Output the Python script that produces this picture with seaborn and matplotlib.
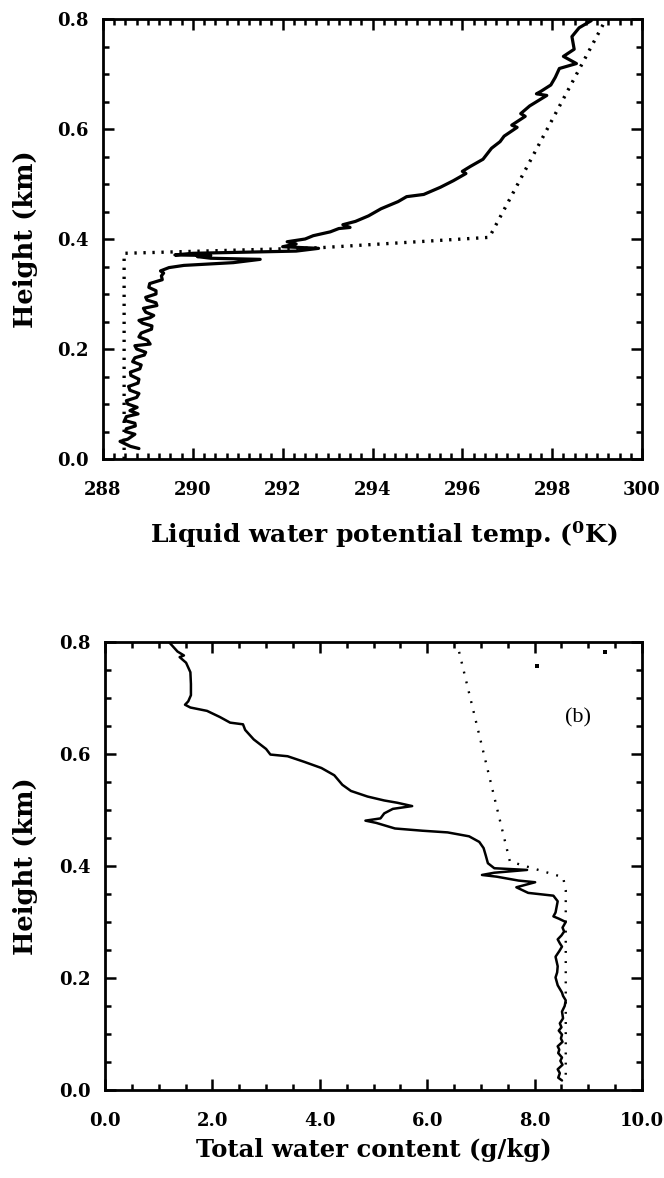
import matplotlib
matplotlib.use("Agg")
import matplotlib.pyplot as plt
from matplotlib.ticker import MultipleLocator, FixedLocator
import seaborn as sns
import pandas as pd

# ---------------- data ----------------
# (a) liquid water potential temperature, measured profile
theta_meas = [288.80, 288.61, 288.38, 288.55, 288.71, 288.50, 288.52, 288.72, 288.71, 288.48,
              288.52, 288.78, 288.60, 288.76, 288.55, 288.52, 288.75, 288.80, 288.60, 288.57,
              288.78, 288.80, 288.62, 288.61, 288.82, 288.85, 288.66, 288.71, 288.92, 288.95,
              288.75, 288.71, 289.05, 288.99, 288.80, 288.85, 289.08, 289.09, 288.88, 288.80,
              289.05, 289.13, 288.95, 288.90, 289.20, 289.18, 288.98, 288.95, 289.18, 289.18,
              289.02, 289.04, 289.32, 289.30, 289.35, 289.28, 289.47, 289.80, 290.90, 291.50,
              290.40, 290.10, 290.40, 289.60, 290.00, 292.30, 292.80, 292.00, 292.30, 292.10,
              292.50, 292.68, 293.06, 293.25, 293.50, 293.34, 293.62, 293.91, 294.19, 294.57,
              294.76, 295.14, 295.51, 295.80, 296.08, 296.00, 296.18, 296.46, 296.65, 296.84,
              296.93, 297.22, 297.10, 297.40, 297.30, 297.50, 297.88, 297.65, 297.74, 297.97,
              298.07, 298.16, 298.54, 298.25, 298.49, 298.44, 298.60, 298.87]
z_theta_meas = [0.019, 0.023, 0.032, 0.036, 0.045, 0.050, 0.055, 0.060, 0.065, 0.070,
                0.077, 0.082, 0.088, 0.094, 0.100, 0.106, 0.112, 0.119, 0.125, 0.132,
                0.138, 0.145, 0.152, 0.158, 0.164, 0.171, 0.177, 0.184, 0.189, 0.194,
                0.200, 0.206, 0.209, 0.216, 0.222, 0.229, 0.236, 0.242, 0.247, 0.252,
                0.257, 0.261, 0.267, 0.274, 0.279, 0.284, 0.289, 0.294, 0.300, 0.306,
                0.312, 0.319, 0.326, 0.333, 0.338, 0.342, 0.348, 0.352, 0.357, 0.363,
                0.365, 0.368, 0.370, 0.371, 0.374, 0.378, 0.383, 0.386, 0.391, 0.395,
                0.400, 0.406, 0.413, 0.419, 0.421, 0.426, 0.432, 0.442, 0.455, 0.468,
                0.477, 0.481, 0.494, 0.506, 0.519, 0.523, 0.532, 0.545, 0.565, 0.577,
                0.587, 0.603, 0.607, 0.623, 0.628, 0.642, 0.661, 0.664, 0.668, 0.680,
                0.694, 0.710, 0.719, 0.732, 0.745, 0.768, 0.784, 0.797]

# (a) model / idealised profile (dotted)
theta_model = [288.47, 288.47, 292.80, 296.60, 299.20]
z_theta_model = [0.000, 0.374, 0.384, 0.403, 0.800]

# (b) total water content, measured profile
qt_meas = [8.51, 8.44, 8.47, 8.43, 8.52, 8.48, 8.51, 8.44, 8.46, 8.43,
           8.52, 8.49, 8.51, 8.45, 8.50, 8.47, 8.53, 8.51, 8.56, 8.58,
           8.53, 8.51, 8.43, 8.39, 8.42, 8.43, 8.39, 8.46, 8.51, 8.47,
           8.43, 8.50, 8.55, 8.52, 8.58, 8.45, 8.35, 8.39, 8.43, 8.35,
           7.88, 7.66, 8.01, 7.70, 7.29, 7.02, 7.25, 7.86, 7.25, 7.13,
           7.09, 7.05, 6.97, 6.78, 6.38, 5.91, 5.40, 5.05, 4.85, 5.13,
           5.20, 5.36, 5.72, 5.44, 5.20, 4.89, 4.58, 4.42, 4.27, 4.03,
           3.71, 3.40, 3.08, 3.00, 2.77, 2.61, 2.57, 2.33, 2.14, 1.90,
           1.59, 1.49, 1.55, 1.60, 1.60, 1.59, 1.51, 1.39, 1.47, 1.35, 1.19]
z_qt_meas = [0.017, 0.022, 0.030, 0.037, 0.045, 0.052, 0.058, 0.066, 0.072, 0.078,
             0.086, 0.092, 0.099, 0.106, 0.112, 0.119, 0.128, 0.140, 0.150, 0.160,
             0.168, 0.174, 0.187, 0.201, 0.210, 0.221, 0.238, 0.248, 0.256, 0.262,
             0.269, 0.276, 0.283, 0.290, 0.300, 0.306, 0.310, 0.317, 0.337, 0.347,
             0.352, 0.362, 0.371, 0.374, 0.381, 0.384, 0.388, 0.393, 0.396, 0.405,
             0.419, 0.432, 0.443, 0.453, 0.460, 0.463, 0.467, 0.477, 0.481, 0.485,
             0.494, 0.502, 0.507, 0.513, 0.517, 0.524, 0.534, 0.545, 0.562, 0.575,
             0.586, 0.596, 0.599, 0.609, 0.626, 0.643, 0.653, 0.656, 0.666, 0.677,
             0.683, 0.688, 0.694, 0.705, 0.725, 0.746, 0.763, 0.773, 0.776, 0.783, 0.800]

# (b) model profile (dotted)
qt_model = [6.55, 7.54, 8.53, 8.58, 8.58]
z_qt_model = [0.800, 0.408, 0.380, 0.357, 0.020]

# stray specks in panel (b)
speck_x = [8.04, 9.31]
speck_y = [0.757, 0.782]

x_ticks_a = [288, 290, 292, 294, 296, 298, 300]
x_ticks_b = [0.0, 2.0, 4.0, 6.0, 8.0, 10.0]
y_ticks = [0.0, 0.2, 0.4, 0.6, 0.8]

# ---------------- style ----------------
sns.set_style("ticks")
plt.rcParams['font.family'] = ['DejaVu Serif']
plt.rcParams['mathtext.default'] = 'regular'
plt.rcParams['axes.labelcolor'] = 'black'
plt.rcParams['text.color'] = 'black'

W, H = 664, 1178
fig = plt.figure(figsize=(W / 100, H / 100), dpi=100)

def box(l, t, r, b):
    return [l / W, 1 - b / H, (r - l) / W, (b - t) / H]

ax1 = fig.add_axes(box(103, 19, 642, 459))
ax2 = fig.add_axes(box(105, 642, 642, 1090))

df_a_meas = pd.DataFrame({"x": theta_meas, "z": z_theta_meas})
df_a_mod = pd.DataFrame({"x": theta_model, "z": z_theta_model})
df_b_meas = pd.DataFrame({"x": qt_meas, "z": z_qt_meas})
df_b_mod = pd.DataFrame({"x": qt_model, "z": z_qt_model})

sns.lineplot(data=df_a_mod, x="x", y="z", sort=False, estimator=None, ax=ax1,
             color="black", lw=2.4, linestyle=(0, (0.7, 2.0)))
sns.lineplot(data=df_a_meas, x="x", y="z", sort=False, estimator=None, ax=ax1,
             color="black", lw=2.3)

sns.lineplot(data=df_b_mod, x="x", y="z", sort=False, estimator=None, ax=ax2,
             color="black", lw=1.7, linestyle=(0, (0.8, 3.5)))
sns.lineplot(data=df_b_meas, x="x", y="z", sort=False, estimator=None, ax=ax2,
             color="black", lw=1.8)
ax2.scatter(speck_x, speck_y, s=5, color="black", marker="s", linewidths=0)

ax2.text(8.8, 0.664, "(b)", fontsize=16, ha="center", va="center", color="black",
         family="Liberation Serif")

# ---------------- axes formatting ----------------
def fmt(ax, xt, xlim, minor_x, xlabels, xlabel, xl_size):
    ax.set_xlim(*xlim)
    ax.set_ylim(0, 0.8)
    ax.xaxis.set_major_locator(FixedLocator(xt))
    ax.xaxis.set_minor_locator(MultipleLocator(minor_x))
    ax.yaxis.set_major_locator(FixedLocator(y_ticks))
    ax.yaxis.set_minor_locator(MultipleLocator(0.05))
    ax.set_xticklabels(xlabels)
    ax.set_yticklabels([f"{v:.1f}" for v in y_ticks])
    for s in ax.spines.values():
        s.set_visible(True)
        s.set_linewidth(2.0)
        s.set_color("black")
    ax.tick_params(which="both", direction="in", top=True, right=True,
                   colors="black", width=1.8)
    ax.tick_params(which="major", length=8)
    ax.tick_params(which="minor", length=4)
    ax.tick_params(axis="x", which="major", pad=16, labelsize=13)
    ax.tick_params(axis="y", which="major", pad=10, labelsize=13)
    for lab in ax.get_xticklabels() + ax.get_yticklabels():
        lab.set_fontweight("bold")
    ax.set_xlabel(xlabel, fontsize=xl_size, fontweight="bold", color="black")
    ax.set_ylabel("Height (km)", fontsize=18.5, fontweight="bold", color="black")
    ax.grid(False)

fmt(ax1, x_ticks_a, (288, 300), 0.25, [str(v) for v in x_ticks_a],
    r"Liquid water potential temp. ($^0$K)", 18)
fmt(ax2, x_ticks_b, (0, 10), 0.5, [f"{v:.1f}" for v in x_ticks_b],
    "Total water content (g/kg)", 17.5)

ax1.xaxis.set_label_coords(0.52, -0.136)
ax1.yaxis.set_label_coords(-0.12, 0.5)
ax2.xaxis.set_label_coords(0.5, -0.108)
ax2.yaxis.set_label_coords(-0.125, 0.5)

fig.savefig("out.png", dpi=100, facecolor="white")
